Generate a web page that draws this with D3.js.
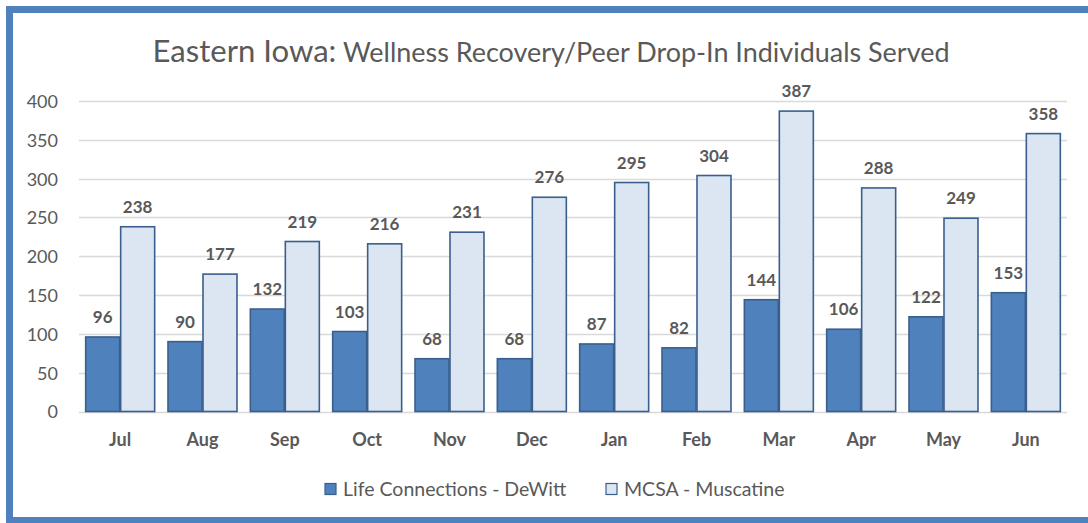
<!DOCTYPE html>
<html>
<head>
<meta charset="utf-8">
<script src="https://cdn.jsdelivr.net/npm/d3@7"></script>
<style>
  html, body { margin: 0; padding: 0; background: #fff; }
  svg { display: block; }
  text { font-family: Lato, "Open Sans", sans-serif; fill: #595959; }
</style>
</head>
<body>
<svg id="chart" width="1088" height="523"></svg>
<script>
const months = ["Jul","Aug","Sep","Oct","Nov","Dec","Jan","Feb","Mar","Apr","May","Jun"];
const dewitt = [96, 90, 132, 103, 68, 68, 87, 82, 144, 106, 122, 153];
const muscatine = [238, 177, 219, 216, 231, 276, 295, 304, 387, 288, 249, 358];
const seriesNames = ["Life Connections - DeWitt", "MCSA - Muscatine"];
const yTicks = [0, 50, 100, 150, 200, 250, 300, 350, 400];
const titleMain = "Eastern Iowa:";
const titleRest = " Wellness Recovery/Peer Drop-In Individuals Served";

const svg = d3.select("#chart");
const W = 1088, H = 523;
const fills = ["#4f81bd", "#dce6f2"];
const stroke = "#3a5f8c";

svg.append("rect").attr("width", W).attr("height", H).attr("fill", "#fff");

const plot = { left: 79, right: 1067, top: 101, bottom: 411.5 };

const x = d3.scaleBand().domain(months).range([plot.left, plot.right]).paddingInner(0.15).paddingOuter(0.075);
const xs = d3.scaleBand().domain([0, 1]).range([0, x.bandwidth()]).padding(0);
const y = d3.scaleLinear().domain([0, 400]).range([plot.bottom, plot.top]);

// gridlines
svg.append("g").selectAll("line").data(yTicks).join("line")
  .attr("x1", plot.left).attr("x2", plot.right)
  .attr("y1", d => Math.round(y(d)) + 0.5).attr("y2", d => Math.round(y(d)) + 0.5)
  .attr("stroke", "#d9d9d9").attr("stroke-width", 1.3);

// y axis labels
const yAxis = d3.axisLeft(y).tickValues(yTicks).tickSize(0).tickPadding(0);
const ya = svg.append("g").attr("transform", `translate(58,0)`).call(yAxis);
ya.select(".domain").remove();
ya.selectAll("text").attr("font-size", 18).attr("fill", "#595959")
  .style("font-family", "Lato, sans-serif").attr("dy", "0.36em");

// x axis labels
const xAxis = d3.axisBottom(x).tickSize(0).tickPadding(0);
const xa = svg.append("g").attr("transform", `translate(0,${plot.bottom + 34})`).call(xAxis);
xa.select(".domain").remove();
xa.selectAll("text").attr("font-size", 18).attr("font-weight", 700).attr("fill", "#5a5a5a")
  .style("font-family", "Lato, sans-serif").attr("dy", 0);

// bars
const data = months.map((m, i) => ({ m, vals: [dewitt[i], muscatine[i]] }));
const groups = svg.append("g").selectAll("g").data(data).join("g")
  .attr("transform", d => `translate(${x(d.m)},0)`);
groups.selectAll("rect").data(d => d.vals.map((v, s) => ({ v, s }))).join("rect")
  .attr("x", d => xs(d.s) + 0.5)
  .attr("width", xs.bandwidth() - 1)
  .attr("y", d => y(d.v))
  .attr("height", d => y(0) - y(d.v))
  .attr("fill", d => fills[d.s])
  .attr("stroke", stroke).attr("stroke-width", 1.6);
groups.selectAll("text.lbl").data(d => d.vals.map((v, s) => ({ v, s }))).join("text")
  .attr("class", "lbl")
  .attr("x", d => xs(d.s) + xs.bandwidth() / 2)
  .attr("y", d => y(d.v) - 14)
  .attr("text-anchor", "middle")
  .attr("font-size", 17).attr("font-weight", 700)
  .text(d => d.v);

// title
const title = svg.append("text").attr("x", 551).attr("y", 62).attr("text-anchor", "middle");
title.append("tspan").attr("font-size", 30).text(titleMain);
title.append("tspan").attr("font-size", 26).text(titleRest);
// fit the title to the reference span
const tw = title.node().getComputedTextLength();
if (Math.abs(tw - 797) > 4) title.attr("textLength", 797).attr("lengthAdjust", "spacingAndGlyphs");

// legend
const legendX = [325, 606];
const lg = svg.append("g").selectAll("g").data(seriesNames).join("g")
  .attr("transform", (d, i) => `translate(${legendX[i]},483)`);
lg.append("rect").attr("width", 11).attr("height", 11).attr("y", 0.5)
  .attr("fill", (d, i) => fills[i]).attr("stroke", stroke).attr("stroke-width", 1.2);
lg.append("text").attr("x", 18).attr("y", 12.5).attr("font-size", 19.5).text(d => d);

// outer border
svg.append("rect").attr("x", 9.5).attr("y", 9.5).attr("width", 1200).attr("height", 511)
  .attr("fill", "none").attr("stroke", "#4f81bd").attr("stroke-width", 7);
</script>
</body>
</html>
